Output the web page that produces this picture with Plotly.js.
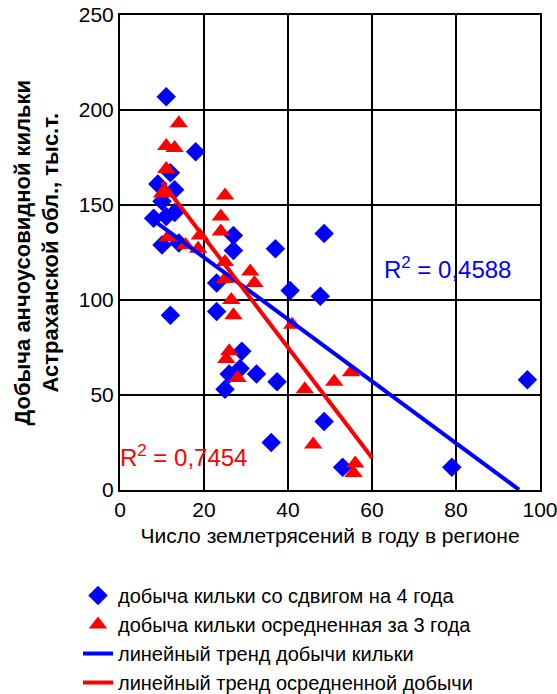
<!DOCTYPE html>
<html>
<head>
<meta charset="utf-8">
<script src="https://cdn.plot.ly/plotly-3.0.1.min.js"></script>
<style>body{margin:0;background:#fff}#chart{width:557px;height:694px}</style>
</head>
<body>
<div id="chart"></div>
<script>
// сдвиг на 4 года
const quakesShift = [11,18,9,12,13,10,8,11,13,10,14,12,23,23,27,27,29,28.6,25,26,37,48.6,40.5,47.7,37.4,48.6,36,53,79,97,32.5];
const catchShift  = [207,178,161,167,158,152,143,144,146,129,130,92,109,94,134,126,73,64,53,61,127,135,105,102,57,36,25,12,12,58,61];
// осредненная за 3 года
const quakesAvg = [14,11,13,11,10,11.4,15.6,19,18.6,25,24,24,25,25,31,32,26.5,27,26,25.3,28,41,55,51,44,46,56,55.6];
const catchAvg  = [193,181,180,169,156,133,129,134,127,155,144,136,120,111,115,109,100,92,73,69,59,87,62,57,53,24,14,9];
// линейные тренды y = a + b*x
const trendShift = {a:155, b:-1.63, x:[8,95]};
const trendAvg   = {a:191, b:-2.9,  x:[10,60]};

const F = 'Liberation Sans, Arial, sans-serif';
const line = t => t.x.map(x => t.a + t.b*x);

const traces = [
  {x:quakesShift, y:catchShift, mode:'markers', name:'добыча кильки со сдвигом на 4 года',
   marker:{symbol:'diamond', size:15, color:'#0000ff'}},
  {x:quakesAvg, y:catchAvg, mode:'markers', name:'добыча кильки осредненная за 3 года',
   marker:{symbol:'triangle-up', size:16, color:'#ff0000'}},
  {x:trendShift.x, y:line(trendShift), mode:'lines', name:'линейный тренд добычи кильки',
   line:{color:'#0000ff', width:4}},
  {x:trendAvg.x, y:line(trendAvg), mode:'lines', name:'линейный тренд осредненной добычи',
   line:{color:'#ff0000', width:4}}
];

const layout = {
  width:557, height:694,
  margin:{l:120, r:17, t:15, b:204, autoexpand:false},
  paper_bgcolor:'#fff', plot_bgcolor:'#fff',
  font:{family:F, color:'#000', size:20},
  showlegend:true,
  legend:{xref:'container', yref:'container', x:0.14, y:0.17, xanchor:'left', yanchor:'top',
    font:{size:20}, tracegroupgap:0, itemwidth:30},
  xaxis:{range:[0,100], dtick:20, showgrid:true, gridcolor:'#000', gridwidth:1.5, zeroline:false,
    showline:true, linecolor:'#000', linewidth:2, mirror:true, ticks:'', tickfont:{size:21},
    ticklabeloverflow:'allow',
    title:{text:'Число землетрясений в году в регионе', font:{size:21}, standoff:8}},
  yaxis:{range:[0,250], dtick:50, showgrid:true, gridcolor:'#000', gridwidth:1.5, zeroline:false,
    showline:true, linecolor:'#000', linewidth:2, mirror:true, ticks:'', tickfont:{size:21}},
  annotations:[
    {xref:'paper', yref:'paper', x:-0.2, y:0.5, xanchor:'center', yanchor:'middle', textangle:-90,
     text:'<b>Добыча анчоусовидной кильки<br>Астраханской обл., тыс.т.</b>', showarrow:false,
     font:{size:22}},
    {x:78, y:117, text:'R<sup>2</sup> = 0,4588', showarrow:false, font:{size:24, color:'#0000ff'}},
    {x:15, y:18, text:'R<sup>2</sup> = 0,7454', showarrow:false, font:{size:24, color:'#ff0000'}}
  ]
};

Plotly.newPlot('chart', traces, layout, {displayModeBar:false});
</script>
</body>
</html>
